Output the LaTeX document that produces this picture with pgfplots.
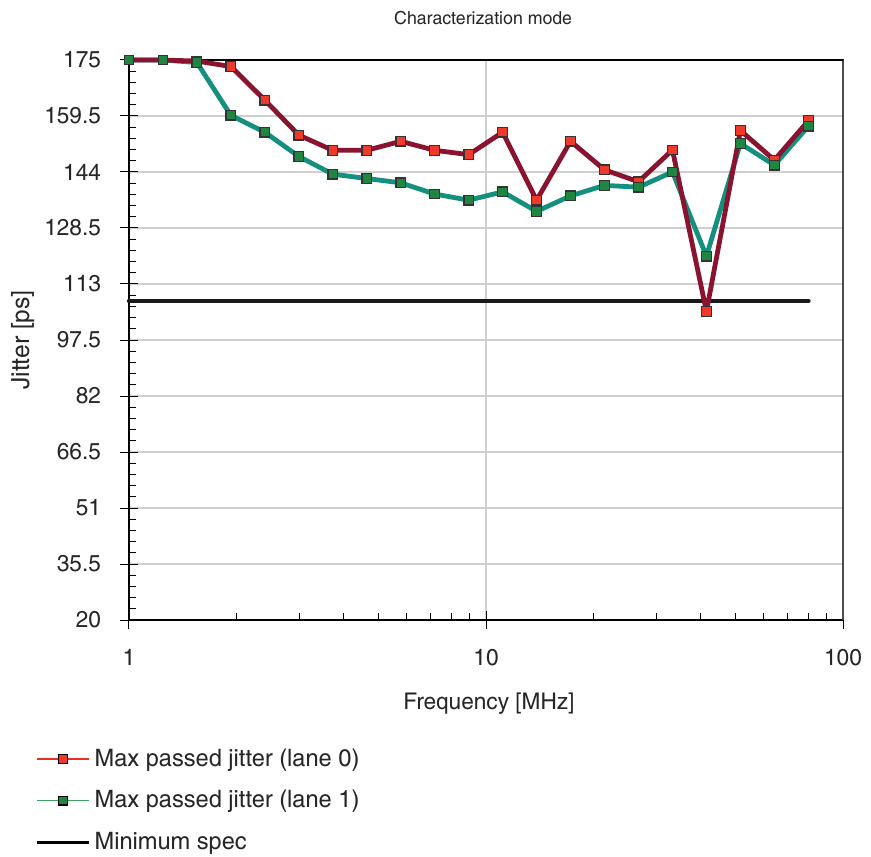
\documentclass[border=0pt]{standalone}
\usepackage{pgfplots}
\pgfplotsset{compat=1.18}
\usepackage{fontspec}
\setmainfont{texgyreheroscn}[Extension=.otf, UprightFont=*-regular, BoldFont=*-bold, FakeStretch=1.2]
\definecolor{redline}{HTML}{8A1430}
\definecolor{redmark}{HTML}{EE3A2C}
\definecolor{greenline}{HTML}{16907E}
\definecolor{greenmark}{HTML}{1F8540}
\definecolor{legred}{HTML}{EE2E24}
\definecolor{leggreen}{HTML}{3CA064}
\definecolor{gridc}{HTML}{CFCFCF}

\pgfplotstableread{
f       lane0   lane1
1       175.0   175.0
1.2448  175.0   175.0
1.5496  174.7   174.3
1.9290  173.2   159.7
2.4012  163.9   155.0
2.9907  154.2   148.3
3.7224  150.0   143.4
4.634   150.0   142.2
5.770   152.5   141.0
7.183   150.0   137.9
8.944   148.8   136.2
11.13   155.0   138.5
13.86   136.2   133.1
17.25   152.5   137.4
21.48   144.6   140.3
26.74   141.3   139.8
33.29   150.1   144.0
41.44   105.4   120.7
51.59   155.5   151.9
64.22   147.3   145.9
80.00   158.2   156.7
}\jitter

\pgfplotstableread{
f     spec
1     108.3
80    108.3
}\spec

\begin{document}
\begin{tikzpicture}
\begin{axis}[
  scale only axis,
  width=357pt, height=280pt,
  xmode=log, xmin=1, xmax=100,
  ymin=20, ymax=175,
  xtick={1,10,100}, xticklabels={1,10,100},
  ytick={20,35.5,51,66.5,82,97.5,113,128.5,144,159.5,175},
  yticklabels={20,35.5,51,66.5,82,97.5,113,128.5,144,159.5,175},
  extra x ticks={1,10,100}, extra x tick labels={},
  extra y ticks={20,35.5,51,66.5,82,97.5,113,128.5,144,159.5,175},
  extra y tick labels={},
  extra tick style={tick align=outside, major tick length=4.5pt, grid=none},
  minor y tick num=4,
  tick pos=left,
  tick align=inside,
  major tick length=4.5pt,
  minor tick length=3.5pt,
  tick style={black, line width=0.5pt},
  xmajorgrids, ymajorgrids,
  grid style={gridc, line width=0.8pt},
  axis line style={black, line width=0.6pt},
  ticklabel style={font=\fontsize{11.5}{13}\selectfont, text=black!85},
  xticklabel style={yshift=-11pt},
  yticklabel style={xshift=-10.5pt},
  xlabel={Frequency [MHz]},
  ylabel={Jitter [ps]},
  xlabel style={font=\fontsize{11.5}{13}\selectfont, text=black!85, at={(axis description cs:0.504,-0.149)}, anchor=center},
  ylabel style={font=\fontsize{12.5}{15}\selectfont, text=black!85, at={(axis description cs:-0.149,0.5)}, anchor=center},
  clip=false,
  legend style={
    at={(axis description cs:-0.14,-0.215)}, anchor=north west,
    draw=none, fill=none,
    font=\fontsize{12}{14}\selectfont,
    row sep=6.5pt,
    legend cell align=left,
    nodes={text=black!85},
    /tikz/every even column/.append style={column sep=2pt},
  },
  legend image code/.code={
    \draw[#1] (0cm,0cm) -- (0.92cm,0cm);
    \draw[#1, only marks] plot coordinates {(0.46cm,0cm)};
  },
]
\draw[black!70, line width=1pt] (axis description cs:1,0) -- (axis description cs:1,1);
\draw[black, line width=0.6pt] (axis description cs:0,1) -- (axis description cs:1,1);

\addplot[forget plot, black!90, line width=2.2pt, line cap=round] table[x=f, y=spec] {\spec};
\addplot[forget plot, greenline, line width=2.4pt, line join=round] table[x=f, y=lane1] {\jitter};
\addplot[forget plot, redline, line width=2.4pt, line join=round] table[x=f, y=lane0] {\jitter};
\addplot[forget plot, only marks, mark=square*, mark size=2.4pt,
  mark options={fill=redmark, draw=black!80, line width=0.6pt}] table[x=f, y=lane0] {\jitter};
\addplot[forget plot, only marks, mark=square*, mark size=2.4pt,
  mark options={fill=greenmark, draw=black!80, line width=0.6pt}] table[x=f, y=lane1] {\jitter};

\addlegendimage{legred, line width=0.8pt, mark=square*, mark size=2.2pt, mark options={fill=redmark, draw=black, line width=0.6pt}}
\addlegendentry{Max passed jitter (lane 0)}
\addlegendimage{leggreen, line width=0.6pt, mark=square*, mark size=2.2pt, mark options={fill=greenmark, draw=black, line width=0.6pt}}
\addlegendentry{Max passed jitter (lane 1)}
\addlegendimage{black, line width=1.4pt, no marks}
\addlegendentry{Minimum spec}

\node[font=\fontsize{9}{11}\selectfont, text=black!85, anchor=center] at (axis description cs:0.496,1.075) {Characterization mode};
\end{axis}
\pgfresetboundingbox
\path[use as bounding box] ([xshift=-64.5pt,yshift=-118pt]current axis.south west) rectangle ([xshift=14pt,yshift=30pt]current axis.north east);
\end{tikzpicture}
\end{document}
